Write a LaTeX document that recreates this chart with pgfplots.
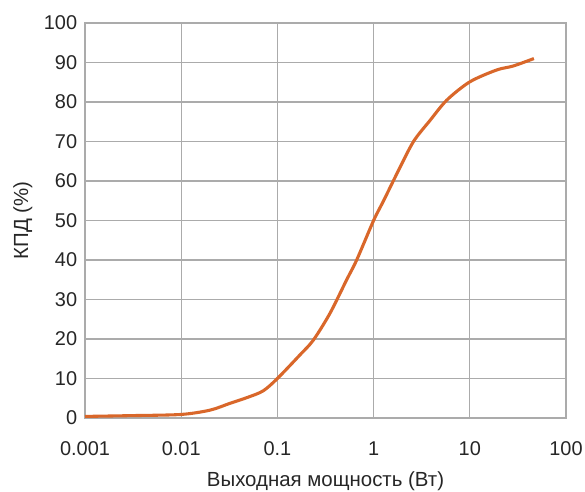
\documentclass[border=0pt]{standalone}
\usepackage{pgfplots}
\pgfplotsset{compat=1.18}
\usepackage{fontspec}
\setmainfont{Liberation Sans}
\definecolor{curve}{HTML}{D9672A}
\definecolor{gridc}{HTML}{ABABAB}
\begin{document}
\fontsize{20}{24}\selectfont
\begin{tikzpicture}
\useasboundingbox (0,0) rectangle (585bp,492bp);
\begin{axis}[
  at={(85bp,74bp)}, anchor=south west,
  scale only axis, width=481bp, height=395bp,
  xmode=log, xmin=0.001, xmax=100, ymin=0, ymax=100,
  xtick={0.001,0.01,0.1,1,10,100},
  xticklabels={0.001,0.01,0.1,1,10,100},
  ytick={0,10,...,100},
  minor xtick={},
  grid=major,
  major grid style={gridc, line width=1.2pt},
  axis line style={gridc, line width=1.2pt},
  tick style={draw=none},
  /pgf/number format/assume math mode=true,
  ticklabel style={font=\fontsize{20}{24}\selectfont, text=black!85},
  xticklabel style={yshift=-17bp},
  yticklabel style={xshift=-1bp},
  xlabel={Выходная мощность (Вт)},
  ylabel={КПД (\%)},
  label style={font=\fontsize{20.5}{24}\selectfont, text=black!85},
  xlabel style={yshift=-2.5bp},
  ylabel style={yshift=-2bp},
]
\addplot[curve, line width=3.1pt, smooth, tension=0.5] coordinates {
(0.001,0.4) (0.003,0.6) (0.01,0.9) (0.02,2.0) (0.032,3.7) (0.05,5.3) (0.0714,6.9) (0.1,10.0)
(0.172,16) (0.236,19.7) (0.352,26.5) (0.525,35) (0.667,40) (1,50)
(1.27,55) (1.8,62.5) (2.6,70) (3.88,75.4) (5.78,80.5) (10,85.1) (19,88.1) (28.2,89.1) (46.4,91)
};
\end{axis}
\end{tikzpicture}
\end{document}
